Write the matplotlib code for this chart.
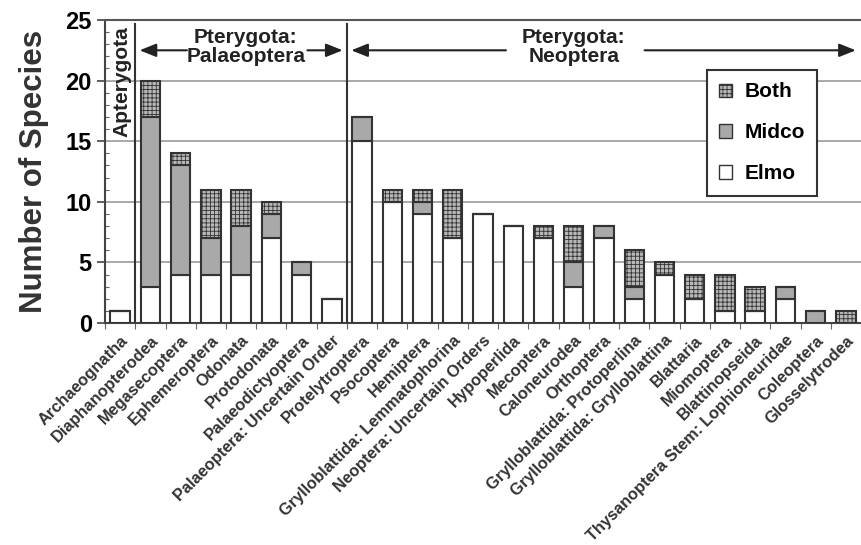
import matplotlib
matplotlib.use("Agg")
import matplotlib.pyplot as plt
from matplotlib.patches import Patch
from matplotlib.ticker import MultipleLocator

plt.rcParams['font.family'] = ['Liberation Sans', 'DejaVu Sans']
plt.rcParams['hatch.color'] = '#444444'
plt.rcParams['hatch.linewidth'] = 0.6

categories = ["Archaeognatha", "Diaphanopterodea", "Megasecoptera", "Ephemeroptera",
              "Odonata", "Protodonata", "Palaeodictyoptera", "Palaeoptera: Uncertain Order",
              "Protelytroptera", "Psocoptera", "Hemiptera", "Grylloblattida: Lemmatophorina",
              "Neoptera: Uncertain Orders", "Hypoperlida", "Mecoptera", "Caloneurodea",
              "Orthoptera", "Grylloblattida: Protoperlina", "Grylloblattida: Grylloblattina",
              "Blattaria", "Miomoptera", "Blattinopseida", "Thysanoptera Stem: Lophioneuridae",
              "Coleoptera", "Glosselytrodea"]
elmo  = [1, 3, 4, 4, 4, 7, 4, 2, 15, 10, 9, 7, 9, 8, 7, 3, 7, 2, 4, 2, 1, 1, 2, 0, 0]
midco = [0, 14, 9, 3, 4, 2, 1, 0, 2, 0, 1, 0, 0, 0, 0, 2, 1, 1, 0, 0, 0, 0, 1, 1, 0]
both  = [0, 3, 1, 4, 3, 1, 0, 0, 0, 1, 1, 4, 0, 0, 1, 3, 0, 3, 1, 2, 3, 2, 0, 0, 1]

fig = plt.figure(figsize=(8.61, 5.45), dpi=100)
ax = fig.add_axes([0.122, 0.4073, 0.878, 0.556])

x = list(range(len(categories)))
w = 0.64
edge = '#333333'
lw = 1.5
ax.bar(x, elmo, w, color='white', edgecolor=edge, linewidth=lw, zorder=3)
ax.bar(x, midco, w, bottom=elmo, color='#a9a9a9', edgecolor=edge, linewidth=lw, zorder=3)
bot2 = [a + b for a, b in zip(elmo, midco)]
ax.bar(x, both, w, bottom=bot2, color='#b8b8b8', edgecolor=edge, linewidth=lw,
       hatch='++++', zorder=3)

ax.set_xlim(-0.46, 24.43)
ax.set_ylim(0, 25)
ax.yaxis.set_major_locator(MultipleLocator(5))
ax.yaxis.set_minor_locator(MultipleLocator(1))
ax.tick_params(axis='y', which='major', direction='out', length=6, width=1.2,
               labelsize=17, color='#444444')
ax.tick_params(axis='y', which='minor', direction='in', length=3, width=0.8, color='#666666')
for lab in ax.get_yticklabels():
    lab.set_fontweight('bold')
ax.grid(axis='y', which='major', color='#9a9a9a', linewidth=1.2, zorder=0)
ax.spines['right'].set_visible(False)
ax.spines['top'].set_color('#555555')
ax.spines['top'].set_linewidth(1.5)
ax.spines['left'].set_color('#444444')
ax.spines['left'].set_linewidth(1.5)
ax.spines['bottom'].set_color('#444444')
ax.spines['bottom'].set_linewidth(1.5)

# x ticks at boundaries, labels at centres
ax.set_xticks([i - 0.5 for i in range(len(categories) + 1)])
ax.set_xticklabels([])
ax.set_xticks(x, minor=True)
ax.set_xticklabels(categories, minor=True, rotation=45, ha='right', va='top',
                   rotation_mode='anchor', fontsize=11.8, fontweight='bold', color='#333333')
ax.tick_params(axis='x', which='major', direction='out', length=4, color='#666666')
ax.tick_params(axis='x', which='minor', length=0, pad=7)

ax.set_ylabel('Number of Species', fontsize=22.5, fontweight='bold', color='#333333', labelpad=12)

# group separators
for xv in (0.5, 7.5):
    ax.plot([xv, xv], [0, 24.7], color='#333333', linewidth=1.5, zorder=4)

ax.text(0.07, 24.45, 'Apterygota', rotation=90, ha='center', va='top', fontsize=15,
        fontweight='bold', color='#222222', zorder=5)

ay = 22.5
akw = dict(arrowstyle='-|>,head_length=1.0,head_width=0.4', color='#222222', lw=1.5)
ax.annotate('', xy=(0.55, ay), xytext=(2.3, ay), arrowprops=akw)
ax.annotate('', xy=(7.45, ay), xytext=(6.1, ay), arrowprops=akw)
ax.text(4.15, 22.75, 'Pterygota:\nPalaeoptera', ha='center', va='center', fontsize=15,
        fontweight='bold', color='#222222', linespacing=1.0)
ax.annotate('', xy=(7.55, ay), xytext=(12.85, ay), arrowprops=akw)
ax.annotate('', xy=(24.42, ay), xytext=(17.25, ay), arrowprops=akw)
ax.text(15.0, 22.75, 'Pterygota:\nNeoptera', ha='center', va='center', fontsize=15,
        fontweight='bold', color='#222222', linespacing=1.0)

handles = [Patch(facecolor='#b8b8b8', edgecolor=edge, hatch='++++', label='Both'),
           Patch(facecolor='#a9a9a9', edgecolor=edge, label='Midco'),
           Patch(facecolor='white', edgecolor=edge, label='Elmo')]
leg = ax.legend(handles=handles, loc='upper left', bbox_to_anchor=(0.796, 0.835),
                borderaxespad=0, fancybox=False, framealpha=1, edgecolor='#333333',
                handlelength=0.6, handleheight=0.6, handletextpad=0.6, labelspacing=1.05,
                borderpad=0.6, prop={'weight': 'bold', 'size': 15})
leg.get_frame().set_linewidth(1.5)
leg.set_zorder(6)

fig.savefig('out.png', dpi=100)
